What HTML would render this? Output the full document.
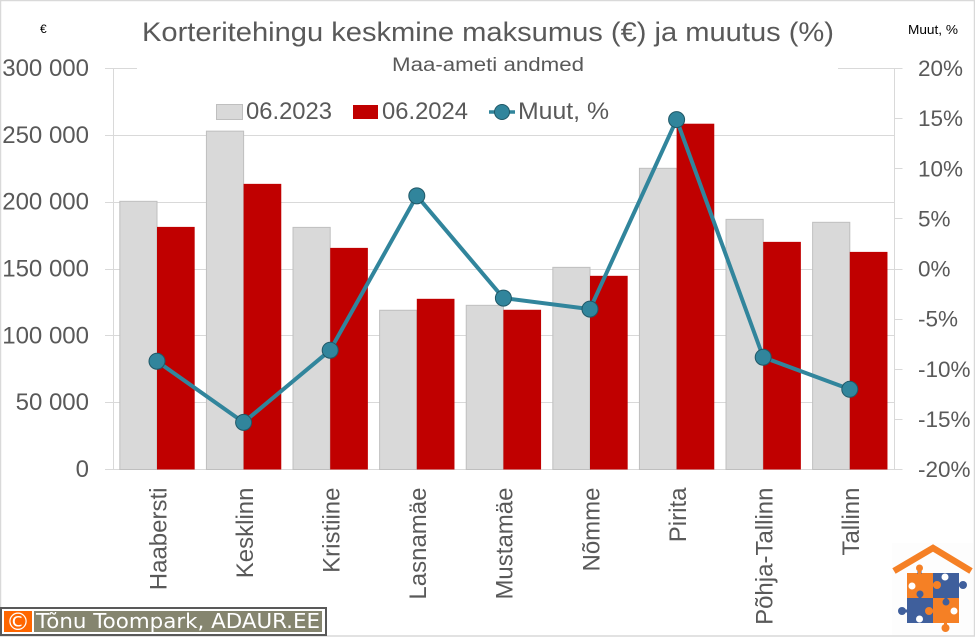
<!DOCTYPE html>
<html lang="et">
<head>
<meta charset="utf-8">
<title>Korteritehingu keskmine maksumus</title>
<style>
html,body{margin:0;padding:0;background:#fff;width:975px;height:637px;overflow:hidden}
svg{display:block;font-family:"Liberation Sans",sans-serif}
</style>
</head>
<body>
<svg id="chart" xmlns="http://www.w3.org/2000/svg" width="975" height="637" viewBox="0 0 975 637">
<rect x="0.5" y="0.5" width="974" height="635.5" fill="#fff" stroke="#d9d9d9" stroke-width="1.5"/>
<g id="grid"></g>
<rect x="137" y="50" width="701" height="26" fill="#fff"/>
<g id="bars"></g>
<g id="axes"></g>
<g id="line"></g>
<text x="142" y="41" font-size="27" fill="#595959" textLength="692" lengthAdjust="spacingAndGlyphs">Korteritehingu keskmine maksumus (€) ja muutus (%)</text>
<text x="392" y="71" font-size="19" fill="#595959" textLength="192" lengthAdjust="spacingAndGlyphs">Maa-ameti andmed</text>
<text x="40" y="33" font-size="12" fill="#000">€</text>
<text x="908" y="34" font-size="13" fill="#000" textLength="50" lengthAdjust="spacingAndGlyphs">Muut, %</text>
<g>
<rect x="216.5" y="104.5" width="26" height="15" fill="#d9d9d9" stroke="#bfbfbf"/>
<text x="246" y="119" font-size="24" fill="#595959" textLength="86" lengthAdjust="spacingAndGlyphs">06.2023</text>
<rect x="353" y="105" width="25" height="14" fill="#c00000"/>
<text x="382" y="119" font-size="24" fill="#595959" textLength="86" lengthAdjust="spacingAndGlyphs">06.2024</text>
<line x1="489" y1="112" x2="515" y2="112" stroke="#31859c" stroke-width="3.5"/>
<circle cx="502" cy="112" r="7.5" fill="#31859c" stroke="#205867"/>
<text x="518" y="119" font-size="24" fill="#595959" textLength="91" lengthAdjust="spacingAndGlyphs">Muut, %</text>
</g>
<g>
<rect x="1" y="608" width="325" height="27" fill="#fff" stroke="#595959" stroke-width="2"/>
<rect x="4" y="611" width="28" height="21" fill="#ff6600"/>
<text x="18" y="630" font-size="24" fill="#fff" text-anchor="middle" font-family="DejaVu Sans, sans-serif">©</text>
<rect x="34" y="611" width="288" height="21" fill="#85856f"/>
<text x="36" y="628" font-size="20.5" fill="#fff" font-family="DejaVu Sans, sans-serif" textLength="284" lengthAdjust="spacingAndGlyphs">Tõnu Toompark, ADAUR.EE</text>
</g>
<g>
<rect x="892" y="543" width="81" height="92" fill="#fdfdfd"/>
<polyline points="894,571 933,548 971,571" fill="none" stroke="#f58025" stroke-width="6.5"/>
<rect x="907" y="573" width="26" height="25" fill="#f58025"/>
<rect x="933" y="573" width="26" height="25" fill="#3f5f9c"/>
<rect x="907" y="598" width="26" height="25" fill="#3f5f9c"/>
<rect x="933" y="598" width="26" height="25" fill="#f58025"/>
<path d="M917.5 568h4v6h-4z M958 583.5h6v3h-6z M899 609.5h8v3h-8z M944 623h3v5h-3z" fill="#3f5f9c"/>
<path d="M918 568h3v6h-3z M944 623h3v5h-3z M932 583.5h5v3h-5z M927 609.5h7v3h-7z" fill="#f58025"/>
<path d="M918.5 592h3v7h-3z M944.5 596h3v7h-3z" fill="#3f5f9c"/>
<circle cx="919.5" cy="568" r="3.5" fill="#f58025"/>
<circle cx="963" cy="585" r="4" fill="#3f5f9c"/>
<circle cx="945" cy="577" r="3.5" fill="#fff"/>
<circle cx="912" cy="586" r="3.5" fill="#fff"/>
<circle cx="937" cy="585" r="4" fill="#f58025"/>
<circle cx="920" cy="594" r="3.5" fill="#3f5f9c"/>
<circle cx="946" cy="602" r="3.5" fill="#3f5f9c"/>
<circle cx="902" cy="611" r="4" fill="#3f5f9c"/>
<circle cx="929" cy="611" r="4" fill="#f58025"/>
<circle cx="919.5" cy="619" r="3.5" fill="#fff"/>
<circle cx="954" cy="611" r="3.5" fill="#fff"/>
<circle cx="945.5" cy="628" r="4" fill="#f58025"/>
</g>
</svg>
<script>
const categories = ["Haabersti","Kesklinn","Kristiine","Lasnamäe","Mustamäe","Nõmme","Pirita","Põhja-Tallinn","Tallinn"];
const values2023 = [201000,253500,181500,119500,123200,151600,225700,187500,185300];
const values2024 = [181500,213700,165800,127700,119500,144900,258700,170300,162800];
const changePct = [-9.2,-15.3,-8.1,7.3,-2.9,-4.0,14.9,-8.8,-12.0];
const leftTicks = [0,50000,100000,150000,200000,250000,300000];
const leftTickLabels = ["0","50 000","100 000","150 000","200 000","250 000","300 000"];
const rightTicks = [-20,-15,-10,-5,0,5,10,15,20];
const rightTickLabels = ["-20%","-15%","-10%","-5%","0%","5%","10%","15%","20%"];

const NS = "http://www.w3.org/2000/svg";
const plotLeft = 113.7, plotRight = 893.1, plotTop = 68.5, plotBottom = 469.5;
const axisLeft = 113.5, axisRight = 894.5;
const leftMax = 300000, rightMin = -20, rightMax = 20;
const bandW = (plotRight - plotLeft) / categories.length;
const barW = bandW * 0.435;
function xCenter(i){ return plotLeft + bandW * (i + 0.5); }
function yLeft(v){ return plotBottom - (v / leftMax) * (plotBottom - plotTop); }
function yRight(p){ return plotBottom - ((p - rightMin) / (rightMax - rightMin)) * (plotBottom - plotTop); }
function mk(tag, attrs, parent, txt){
  const el = document.createElementNS(NS, tag);
  for (const k in attrs) el.setAttribute(k, attrs[k]);
  if (txt !== undefined) el.textContent = txt;
  parent.appendChild(el);
  return el;
}
const grid = document.getElementById("grid");
const bars = document.getElementById("bars");
const axes = document.getElementById("axes");
const line = document.getElementById("line");

leftTicks.forEach(function(v, i){
  const y = Math.round(yLeft(v) - 0.5) + 0.5;
  const g = mk("line", {x1:105, x2:v === leftMax ? 902 : axisRight, y1:y, y2:y, stroke:"#d9d9d9", "stroke-width":1}, grid);
  
  
  const t = mk("text", {x:89, y:yLeft(v) + 7.5, "text-anchor":"end", "font-size":24, fill:"#595959"}, axes, leftTickLabels[i]);
  
  
});
const leftAxis = mk("line", {x1:axisLeft, x2:axisLeft, y1:plotTop, y2:plotBottom, stroke:"#d9d9d9"}, grid);


const rightAxis = mk("line", {x1:axisRight, x2:axisRight, y1:plotTop, y2:plotBottom, stroke:"#d9d9d9"}, grid);



rightTicks.forEach(function(p, i){
  const y = Math.round(yRight(p) - 0.5) + 0.5;
  const tk = mk("line", {x1:894, x2:902.5, y1:y, y2:y, stroke:"#d9d9d9"}, grid);
  
  
  const t = mk("text", {x:918, y:yRight(p) + 7.5, "text-anchor":"start", "font-size":22.5, fill:"#595959"}, axes, rightTickLabels[i]);
  
  
});

categories.forEach(function(c, i){
  const cx = xCenter(i);
  const y0 = yLeft(values2023[i]);
  const a = mk("rect", {x:cx - barW + 0.5, y:y0 + 0.5, width:barW - 0.5, height:plotBottom - y0 - 0.5, fill:"#d9d9d9", stroke:"#bfbfbf", "stroke-width":1}, bars);
  
  
  const y1 = yLeft(values2024[i]);
  const b = mk("rect", {x:cx, y:y1, width:barW, height:plotBottom - y1, fill:"#c00000"}, bars);
  
  
  const lx = cx + 9.3, ly = 487.5;
  const t = mk("text", {x:lx, y:ly, "text-anchor":"end", "font-size":24, fill:"#595959", transform:"rotate(-90 " + lx + " " + ly + ")"}, axes, c);
  
  
});

const pts = changePct.map(function(p, i){ return xCenter(i) + "," + yRight(p); }).join(" ");
const path = mk("polyline", {points:pts, fill:"none", stroke:"#31859c", "stroke-width":4, "stroke-linejoin":"round"}, line);


changePct.forEach(function(p, i){
  const m = mk("circle", {cx:xCenter(i), cy:yRight(p), r:8, fill:"#31859c", stroke:"#205867", "stroke-width":1}, line);
  
  
});
</script>
</body>
</html>
